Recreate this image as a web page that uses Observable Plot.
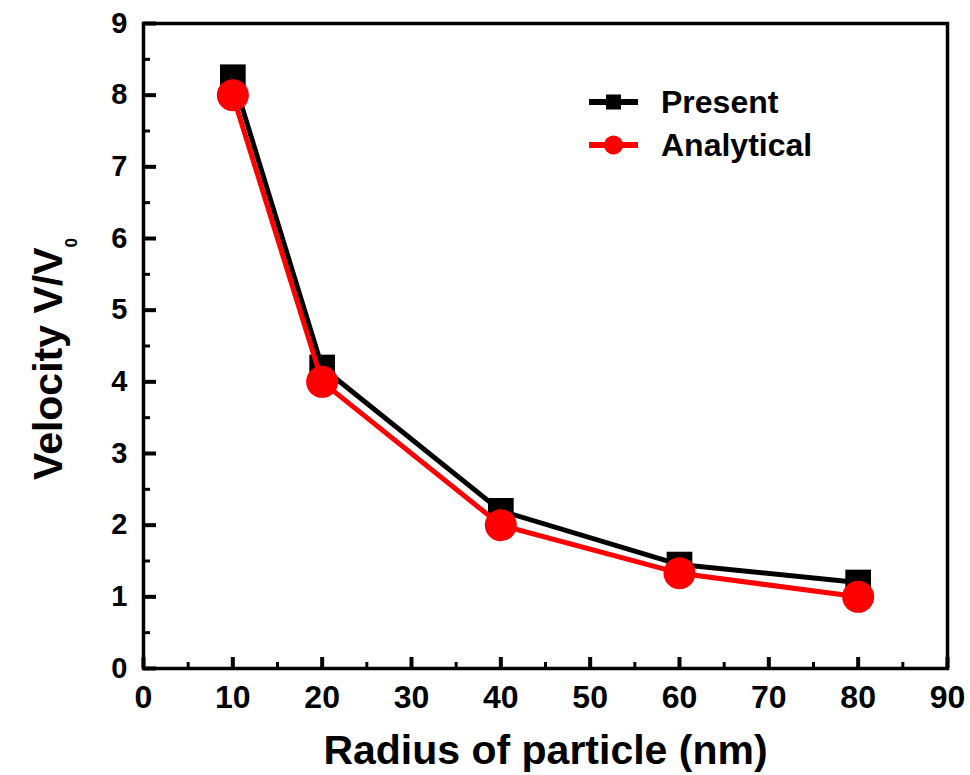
<!DOCTYPE html>
<html><head><meta charset="utf-8">
<script src="https://cdn.jsdelivr.net/npm/d3@7"></script>
<script src="https://cdn.jsdelivr.net/npm/@observablehq/plot@0.6"></script>
<style>
body{margin:0;background:#fff;}
#chart{position:relative;width:970px;height:775px;}
</style></head><body><div id="chart"></div>
<script>
// ---- data ----
const radius = [10, 20, 40, 60, 80];
const present = [8.25, 4.2, 2.2, 1.45, 1.2];
const analytical = [8.0, 4.0, 2.0, 1.33, 1.0];
const seriesNames = ["Present", "Analytical"];
const xTicks = [0, 10, 20, 30, 40, 50, 60, 70, 80, 90];
const xMinor = [5, 15, 25, 35, 45, 55, 65, 75, 85];
const yTicks = [0, 1, 2, 3, 4, 5, 6, 7, 8, 9];
const yMinor = [0.5, 1.5, 2.5, 3.5, 4.5, 5.5, 6.5, 7.5, 8.5];
const xTitle = "Radius of particle (nm)";
const yTitle = "Velocity V/V";
const ySub = "0";

// ---- layout ----
const W = 970, H = 775, mL = 143, mR = 23, mT = 23, mB = 107;
const plotW = W - mL - mR, plotH = H - mT - mB;
const font = "'Liberation Sans', Arial, Helvetica, sans-serif";

const chart = Plot.plot({
  width: W, height: H,
  marginLeft: mL, marginRight: mR, marginTop: mT, marginBottom: mB,
  style: {fontFamily: font, background: "#fff", color: "#000"},
  x: {domain: [0, 90]},
  y: {domain: [0, 9]},
  marks: [
    Plot.axisX({ticks: xTicks, tickSize: 0, tickPadding: 17, fontSize: 32, fontWeight: "bold", label: null, tickFormat: d => String(d)}),
    Plot.axisY({ticks: yTicks, tickSize: 0, tickPadding: 16, fontSize: 29, fontWeight: "bold", label: null, tickFormat: d => String(d)}),
    Plot.tickX(xMinor, {x: d => d, insetTop: plotH - 6, stroke: "#000", strokeWidth: 3}),
    Plot.tickX(xTicks, {x: d => d, insetTop: plotH - 11, stroke: "#000", strokeWidth: 4}),
    Plot.tickY(yMinor, {y: d => d, insetRight: plotW - 7, stroke: "#000", strokeWidth: 3}),
    Plot.tickY(yTicks, {y: d => d, insetRight: plotW - 13, stroke: "#000", strokeWidth: 4}),
    Plot.frame({stroke: "#000", strokeWidth: 3.5}),
    Plot.line(radius, {x: radius, y: present, stroke: "#000", strokeWidth: 5}),
    Plot.dot(radius, {x: radius, y: present, symbol: "square", r: 14.5, fill: "#000", stroke: "none"}),
    Plot.line(radius, {x: radius, y: analytical, stroke: "#ff0000", strokeWidth: 5}),
    Plot.dot(radius, {x: radius, y: analytical, symbol: "circle", r: 16, fill: "#ff0000", stroke: "none"}),
    Plot.text([xTitle], {frameAnchor: "bottom", dy: 82, text: d => d, textAnchor: "middle", lineAnchor: "middle", fontSize: 41, fontWeight: "bold", fill: "#000"}),
    Plot.text([yTitle], {frameAnchor: "left", dx: -95, dy: 13, rotate: -90, text: d => d, textAnchor: "middle", lineAnchor: "middle", fontSize: 41, fontWeight: "bold", fill: "#000"})
  ]
});
document.getElementById("chart").appendChild(chart);

// subscript on the y title
const svg = d3.select(chart);
svg.selectAll("text").filter(function() { return this.textContent === yTitle; })
  .each(function() {
    d3.select(this).append("tspan").attr("dy", 15).attr("font-size", 17).text(ySub);
  });

// legend
const legend = svg.append("g").attr("font-family", font).attr("font-weight", "bold").attr("font-size", 32).attr("text-anchor", "start");
const lx = 589, lw = 49, rows = [102, 145];
const colors = ["#000", "#ff0000"];
seriesNames.forEach((name, i) => {
  const y = rows[i];
  legend.append("line").attr("x1", lx).attr("x2", lx + lw).attr("y1", y).attr("y2", y)
    .attr("stroke", colors[i]).attr("stroke-width", 6);
  if (i === 0) {
    legend.append("rect").attr("x", lx + lw / 2 - 7.5).attr("y", y - 7.5).attr("width", 15).attr("height", 15).attr("fill", colors[i]);
  } else {
    legend.append("circle").attr("cx", lx + lw / 2).attr("cy", y).attr("r", 9.5).attr("fill", colors[i]);
  }
  legend.append("text").attr("x", 661).attr("y", y + 11).attr("fill", "#000").attr("text-anchor", "start").text(name);
});
</script></body></html>
